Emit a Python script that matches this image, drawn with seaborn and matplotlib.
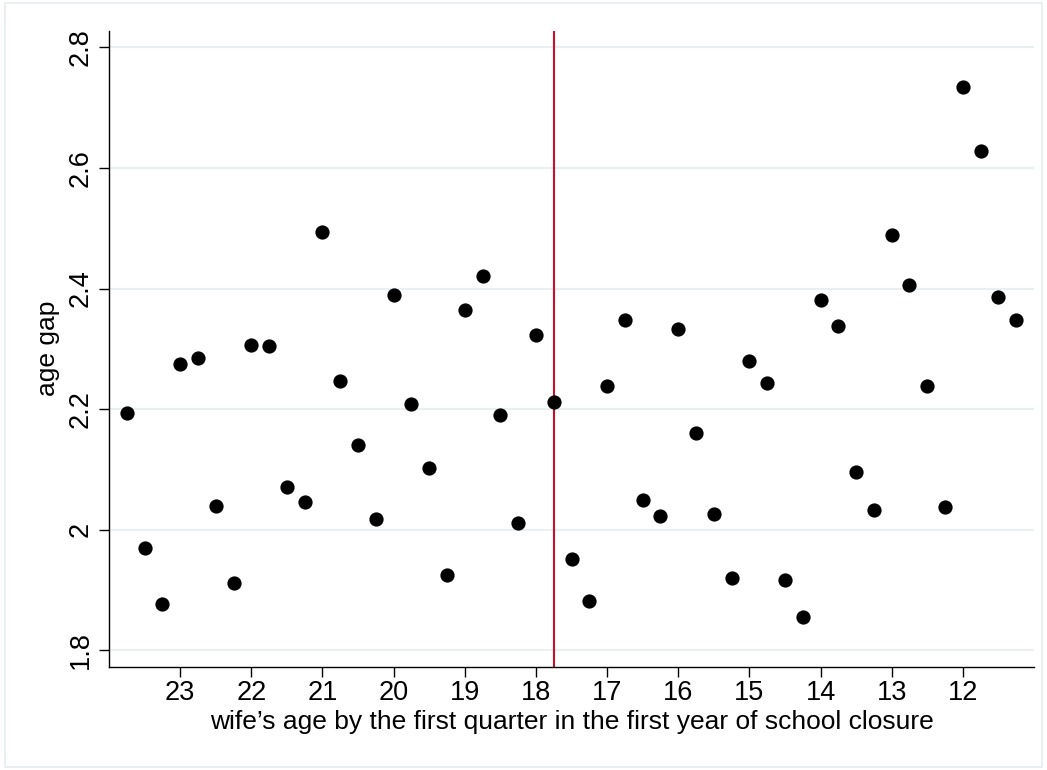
import pandas as pd
import seaborn as sns
import matplotlib.pyplot as plt
from matplotlib.patches import Rectangle
from matplotlib.ticker import FormatStrFormatter

# wife's age (quarters) and mean age gap
wife_age = [23.75, 23.5, 23.25, 23.0, 22.75, 22.5, 22.25, 22.0, 21.75, 21.5,
            21.25, 21.0, 20.75, 20.5, 20.25, 20.0, 19.75, 19.5, 19.25, 19.0,
            18.75, 18.5, 18.25, 18.0, 17.75, 17.5, 17.25, 17.0, 16.75, 16.5,
            16.25, 16.0, 15.75, 15.5, 15.25, 15.0, 14.75, 14.5, 14.25, 14.0,
            13.75, 13.5, 13.25, 13.0, 12.75, 12.5, 12.25, 12.0, 11.75, 11.5,
            11.25]
age_gap = [2.193, 1.969, 1.876, 2.275, 2.285, 2.040, 1.912, 2.306, 2.305, 2.071,
           2.046, 2.494, 2.246, 2.140, 2.017, 2.389, 2.208, 2.103, 1.925, 2.365,
           2.421, 2.191, 2.011, 2.323, 2.212, 1.952, 1.881, 2.238, 2.348, 2.049,
           2.022, 2.333, 2.160, 2.026, 1.920, 2.280, 2.243, 1.916, 1.856, 2.381,
           2.338, 2.095, 2.032, 2.488, 2.405, 2.239, 2.038, 2.734, 2.628, 2.386,
           2.348]
cutoff = 17.75

x_ticks = list(range(12, 24))
y_ticks = [1.8, 2.0, 2.2, 2.4, 2.6, 2.8]

df = pd.DataFrame({'wife_age': wife_age, 'age_gap': age_gap})

sns.set_theme(style='white')
plt.rcParams['font.family'] = ['Liberation Sans', 'DejaVu Sans']

fig = plt.figure(figsize=(10.47, 7.7), dpi=100)
ax = fig.add_axes([0.1041, 0.1338, 0.8835, 0.8264])

sns.scatterplot(data=df, x='wife_age', y='age_gap', color='black', s=105,
                linewidth=0, ax=ax, zorder=3)
ax.axvline(cutoff, color='#c8102e', lw=1.5, zorder=2)

ax.set_xlim(24, 11)
ax.set_ylim(1.7724, 2.8276)
ax.set_xticks(x_ticks)
ax.set_yticks(y_ticks)
ax.yaxis.set_major_formatter(FormatStrFormatter('%g'))

ax.grid(axis='y', color='#eaf0f2', lw=1.5)
ax.grid(axis='x', visible=False)
ax.set_axisbelow(True)
sns.despine(ax=ax)
for side in ['left', 'bottom']:
    ax.spines[side].set_color('black')
    ax.spines[side].set_linewidth(1.0)

ax.tick_params(axis='both', which='major', length=7.2, width=1.0, color='black',
               labelsize=19.5, labelcolor='black', left=True, bottom=True)
ax.tick_params(axis='x', pad=2)
ax.tick_params(axis='y', pad=4)
for lbl in ax.get_yticklabels():
    lbl.set_rotation(90)
    lbl.set_va('center')

ax.set_xlabel('wife\u2019s age by the first quarter in the first year of school closure',
              fontsize=19, color='black', labelpad=3)
ax.set_ylabel('age gap', fontsize=19, color='black', labelpad=5)

# light frame round the graph region
fig.patches.append(Rectangle((5 / 1047, 3 / 770), 1037 / 1047, 764 / 770,
                             transform=fig.transFigure, fill=False,
                             edgecolor='#e6ecef', lw=1.2))

fig.savefig('out.png', dpi=100)
